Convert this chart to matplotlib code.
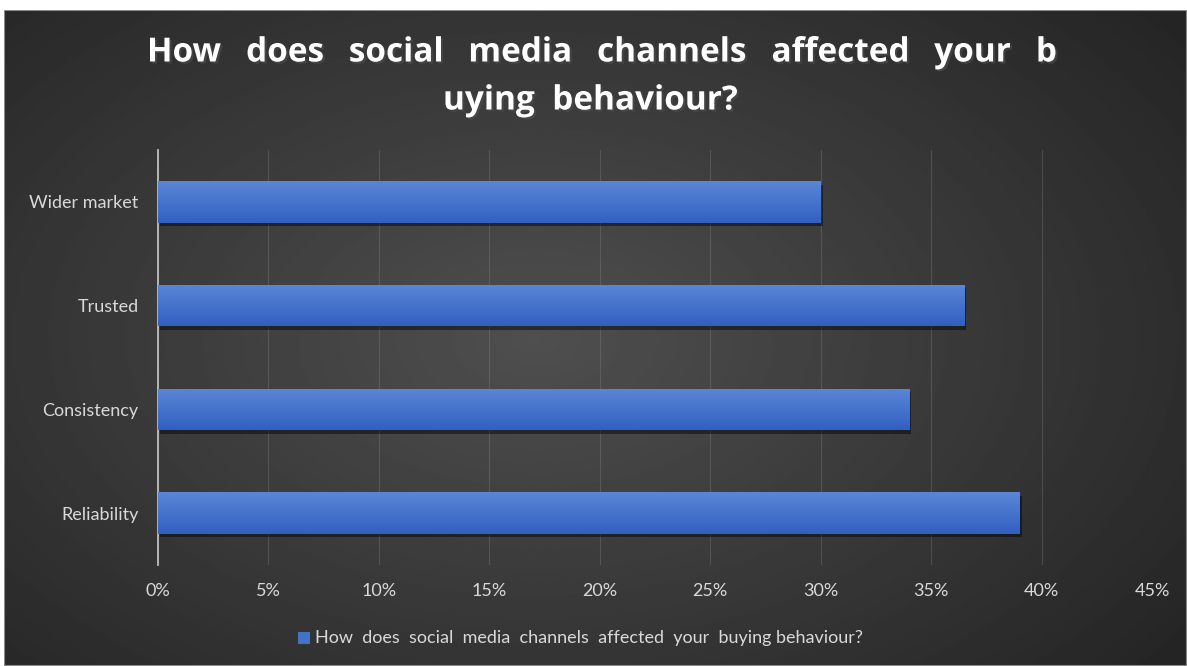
import numpy as np
import matplotlib
matplotlib.use("Agg")
import matplotlib.pyplot as plt
import matplotlib.patheffects as pe
from matplotlib.colors import LinearSegmentedColormap
from matplotlib.patches import Rectangle

plt.rcParams["font.family"] = ["Lato", "DejaVu Sans"]

# -------------------------------------------------
# Survey data
# -------------------------------------------------

CATEGORIES = ["Reliability", "Consistency", "Trusted", "Wider market"]
SHARES = [39.0, 34.0, 36.5, 30.0]
X_TICKS = [0, 5, 10, 15, 20, 25, 30, 35, 40, 45]

TITLE_LINES = ["How does social media channels affected your b",
               "uying behaviour?"]
SERIES = "How  does  social  media  channels  affected  your  buying behaviour?"

W, H = 1187, 666
fig = plt.figure(figsize=(W / 100, H / 100), dpi=100, facecolor="white")
renderer = fig.canvas.get_renderer()

# -------------------------------------------------
# Dark radial background with thin border
# -------------------------------------------------

bg = fig.add_axes([4 / W, 0, 1 - 4 / W, 1 - 10 / H])
bg.set_axis_off()
yy, xx = np.mgrid[0:1:300j, 0:1:500j]
r = np.sqrt(((xx - 0.45) / 0.75) ** 2 + ((yy - 0.50) / 0.85) ** 2)
shade = np.clip(0.31 - 0.18 * r, 0.145, 0.31)
bg.imshow(shade, cmap="gray", vmin=0, vmax=1, aspect="auto",
          extent=[0, 1, 0, 1], origin="lower")
bg.add_patch(Rectangle((0, 0), 1, 1, transform=bg.transAxes, fill=False,
                       edgecolor="#8a8a8a", linewidth=1.5))
bg.set_xlim(0, 1)
bg.set_ylim(0, 1)

# -------------------------------------------------
# Bar chart
# -------------------------------------------------

ax = fig.add_axes([158 / W, 1 - 565 / H, (1152 - 158) / W, (565 - 150) / H])
ax.patch.set_alpha(0)

y_pos = np.arange(len(CATEGORIES))
bar_h = 0.4

shadow = [pe.SimplePatchShadow(offset=(1.5, -2.5), shadow_rgbFace="black", alpha=0.45),
          pe.Normal()]
bars = ax.barh(y_pos, SHARES, height=bar_h, color="#4170cc", zorder=3,
               path_effects=shadow)

# vertical gradient inside each bar
bar_cmap = LinearSegmentedColormap.from_list("bar", ["#3260c0", "#5a86d8"])
grad = np.linspace(0, 1, 64).reshape(-1, 1)
for bar in bars:
    x0, y0 = bar.get_x(), bar.get_y()
    im = ax.imshow(grad, cmap=bar_cmap, aspect="auto", origin="lower",
                   extent=[x0, x0 + bar.get_width(), y0, y0 + bar.get_height()],
                   zorder=4)
    im.set_clip_path(bar)

ax.set_xlim(0, 45)
ax.set_ylim(-0.5, len(CATEGORIES) - 0.5)
ax.set_xticks(X_TICKS)
ax.set_xticklabels([f"{t}%" for t in X_TICKS])
ax.set_yticks(y_pos)
ax.set_yticklabels(CATEGORIES)

ax.grid(axis="x", color="#8c8c8c", linewidth=0.8, alpha=0.3, zorder=0)
for s in ["top", "right", "bottom"]:
    ax.spines[s].set_visible(False)
ax.spines["left"].set_color("#bfbfbf")
ax.spines["left"].set_linewidth(1.3)
ax.tick_params(axis="both", length=0, colors="#d9d9d9", labelsize=13)
ax.tick_params(axis="x", pad=13)
ax.tick_params(axis="y", pad=14)

# -------------------------------------------------
# Title: each line spread word by word between its edges
# -------------------------------------------------

def justified_line(words, left, right, y_px, **kw):
    texts = [fig.text(0, 0, w, va="center", ha="left", **kw) for w in words]
    widths = [t.get_window_extent(renderer).width for t in texts]
    gap = (right - left - sum(widths)) / max(len(words) - 1, 1)
    x = left
    for t, w in zip(texts, widths):
        t.set_position((x / W, 1 - y_px / H))
        x += w + gap


title_style = dict(color="white", fontsize=24, fontweight="bold",
                   family=["Open Sans", "DejaVu Sans"],
                   path_effects=[pe.withSimplePatchShadow(offset=(1.5, -1.5), alpha=0.6)])
justified_line(TITLE_LINES[0].split(), 147, 1057, 53, **title_style)
justified_line(TITLE_LINES[1].split(), 443, 738, 101, **title_style)

# -------------------------------------------------
# Legend
# -------------------------------------------------

fig.text(315 / W, 1 - 638 / H, SERIES, ha="left", va="center",
         color="#d9d9d9", fontsize=13)
fig.patches.append(Rectangle((298 / W, 1 - 644 / H), 12 / W, 12 / H,
                             transform=fig.transFigure, facecolor="#4472c4",
                             edgecolor="none"))

fig.savefig("out.png", dpi=100, facecolor=fig.get_facecolor())
